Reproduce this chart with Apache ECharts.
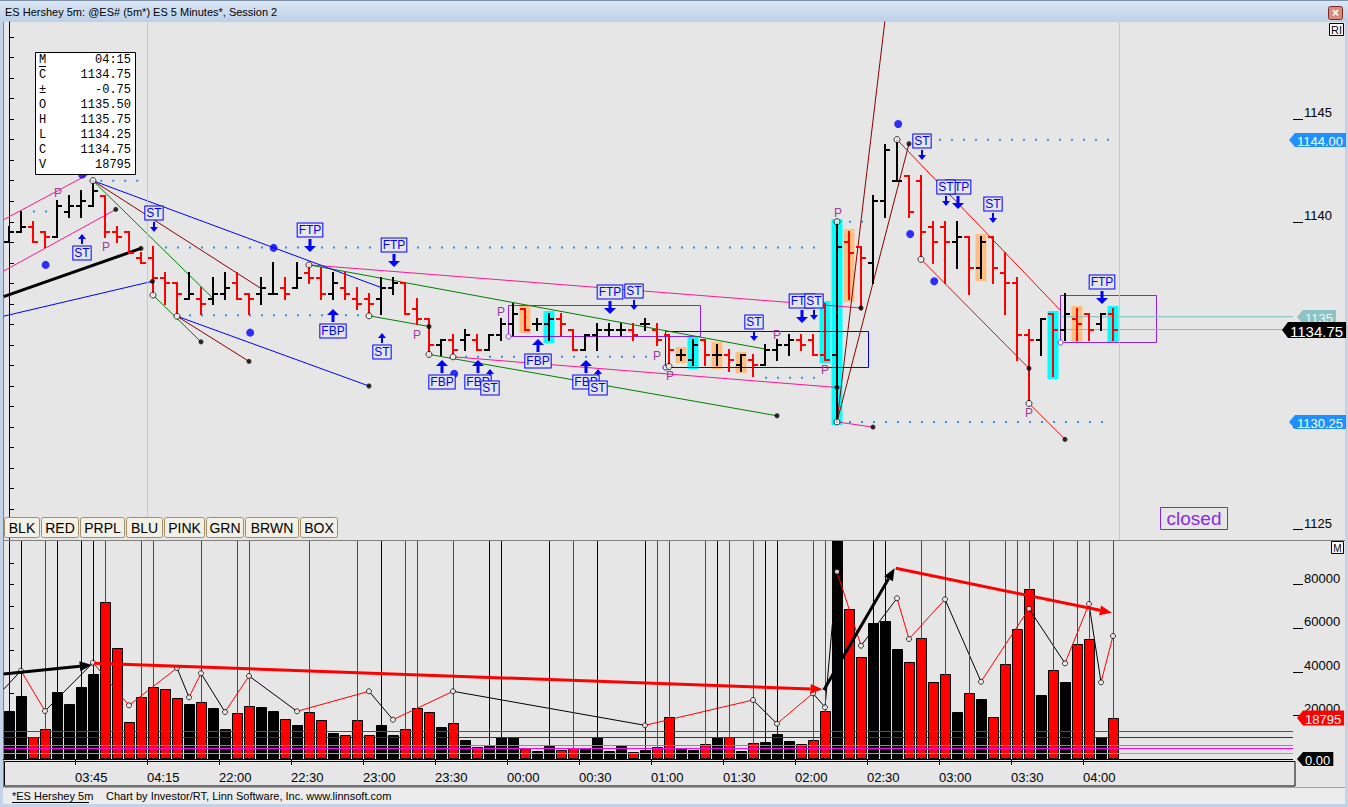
<!DOCTYPE html>
<html>
<head>
<meta charset="utf-8">
<title>ES Hershey 5m</title>
<script src="https://cdn.jsdelivr.net/npm/echarts@6/dist/echarts.min.js"></script>
<style>
html,body{margin:0;padding:0;background:#E6E6E6;overflow:hidden;}
#chart{width:1348px;height:807px;}
</style>
</head>
<body>
<div id="chart"></div>
<script>
// ================= DATA =================
const opens = [1139,1139.5,1139.75,1139.5,1139.25,1140.5,1140.75,1140.75,1141.25,1139.5,
1139.5,1138.25,1138.25,1137.25,1137,1136.25,1136.25,1136.25,1136.5,1137,
1136.5,1136.5,1136.5,1136.75,1136.75,1137.5,1137.25,1136.5,1136.75,1136.25,
1136.25,1136.25,1136.75,1137,1135.75,1135.25,1134,1134.25,1134.25,1134.25,
1133.75,1134.5,1135,1135.75,1135,1135,1135.25,1134.75,1133.75,1134.5,
1134.75,1134.75,1134.75,1135,1134.75,1134.5,1133.5,1133.25,1134.25,1133.5,
1133.5,1133,1133.25,1133,1133.75,1134,1134.25,1134.25,1133.5,1133.5,
1139,1138.75,1138,1141,1142,1142.25,1142,1139.75,1139.75,1139,
1139.25,1137.75,1139.25,1137.5,1137,1134.5,1134.25,1135.5,1134.75,1135.25,
1135.5,1135,1135.5];
const highs = [1139.75,1140.5,1140,1139.5,1141,1141.25,1141.5,1142,1141.25,1139.75,
1139.5,1138.5,1138.75,1137.5,1137,1137.5,1136.75,1137.25,1137.5,1137.5,
1136.5,1137.25,1138,1137.25,1138,1138,1137.75,1137.5,1137.5,1136.75,
1136.5,1137.25,1137.25,1137,1136.25,1135.25,1134.25,1134.5,1134.75,1134.5,
1134.5,1135.25,1136,1135.75,1135.25,1135.5,1135.5,1134.75,1134.5,1135,
1135,1135,1135,1135.25,1135,1134.5,1133.75,1134.25,1134.25,1134,
1133.75,1133.5,1133.5,1134,1134.25,1134.5,1134.5,1134.5,1136,1140,
1139.5,1138.75,1141.25,1143.75,1144,1142.25,1142.25,1140,1140,1140,
1139.25,1139.25,1139.25,1138.5,1137.25,1134.75,1135.25,1135.5,1136.5,1135.75,
1135.5,1135.5,1135.75];
const lows = [1139,1139.5,1139,1138.75,1139.25,1140.25,1140.25,1140.75,1139.25,1139,
1138.5,1138,1136.5,1136,1135.5,1136.25,1135.5,1136,1136.25,1136.25,
1135.5,1136,1136.5,1136.25,1136.75,1137,1136.25,1136.25,1136.25,1135.75,
1135.5,1135.5,1136.5,1135.5,1135,1133.5,1133.5,1133.5,1133.75,1133.75,
1133.75,1134.25,1134.5,1134.75,1134.75,1134.25,1134.5,1133.75,1133.75,1133.75,
1134.5,1134.5,1134.25,1134.75,1134,1133,1133.25,1133,1133,1133,
1132.75,1132.75,1132.5,1133,1133.25,1133.5,1133.75,1133.5,1133.25,1130.25,
1136.25,1135.75,1137,1140.25,1142,1140.25,1138.25,1138,1137,1137.75,
1136.5,1137.25,1137,1135.5,1133.25,1131.25,1133.5,1132.5,1134.25,1134.25,
1134.25,1134.75,1134.25];
const closes = [1139.5,1139.75,1139,1139.25,1140.75,1140.75,1141,1141.5,1139.5,1139.25,
1138.5,1138,1137.25,1137,1136.5,1136.5,1136,1136.5,1136.75,1136.25,
1136.25,1136.75,1136.5,1136.5,1137.25,1137.25,1136.5,1137,1136.5,1136,
1136,1136.75,1137,1135.5,1135.25,1134,1134.25,1133.75,1134.5,1133.75,
1134.5,1135,1135.5,1134.75,1135,1135.25,1135,1133.75,1134.5,1134.75,
1134.75,1134.75,1134.5,1135,1134.25,1133.75,1133.5,1134,1133.5,1133.5,
1133.25,1133.5,1133,1133.75,1134,1134.25,1134,1133.5,1133.25,1138.75,
1138.5,1138.25,1141,1143.5,1142,1140.5,1139.5,1139,1139,1139.25,
1137.75,1139,1137.75,1137,1134.5,1134.25,1135.25,1134.75,1135.5,1135,
1134.75,1135.5,1134.75];
const volumes = [22000,28900,10230,13620,30730,25230,33030,38990,72020,50780,
16830,28440,33030,31960,27840,25230,26000,23390,13620,21100,
24310,23700,22020,18210,15600,21400,17750,11930,10870,17750,
10870,15600,11010,13620,23250,21400,14680,16370,8715,5350,
6100,9950,9950,4590,3670,6100,4130,4890,4590,9950,
3670,6100,3360,4130,5350,19130,4590,4130,6740,9950,
9950,3670,7200,7800,11470,8260,6740,8560,21880,118000,
68660,46650,62240,63300,50460,44350,55360,35180,38850,21560,
30130,27520,19130,43440,59490,77840,29360,40690,35180,52610,
54900,9950,18795];

const timeTickPos = [5.5,11.5,17.5,23.5,29.5,35.5,41.5,47.5,53.5,59.5,65.5,71.5,77.5,83.5,89.5];
const timeTickLabels = ['03:45','04:15','22:00','22:30','23:00','23:30','00:00','00:30','01:00','01:30','02:00','02:30','03:00','03:30','04:00'];
const lastBarTime = '04:15';
const priceMinorTicks = [1125,1126,1127,1128,1129,1130,1131,1132,1133,1134,1135,1136,1137,1138,1139,1140,1141,1142,1143,1144,1145,1146,1147,1148,1149];
const priceMajorTicks = [1125,1130,1135,1140,1145];
const priceTickLabels = [1125,1140,1145];
const volMinorTicks = [0,10000,20000,30000,40000,50000,60000,70000,80000,90000];
const volMajorTicks = [20000,40000,60000,80000];
const volTickLabels = [20000,40000,60000,80000];

// trend lines: [x1, price1, x2, price2]
const pinkLines = [[-0.45,1140.1,6.9,1142.4],[-0.45,1137.6,8.9,1140.6],[25,1137.9,71,1135.8],[37,1133.42,69,1131.93],[69,1130.25,72,1130.0]];
const greenLines = [[7,1142,16.95,1136.3],[12,1136.43,16,1134.15],[25,1137.9,63,1133.8],[30,1135.42,35,1134.9],[35,1133.54,64,1130.55]];
const blueLines = [[-0.45,1135.4,11.95,1137.1],[7,1142,31,1136.8],[14,1135.4,30,1132]];
const maroonLines = [[7,1142,21,1136.75],[14,1135.4,20,1133.2],[69,1130.25,73.2,1150.8],[69,1130.25,75,1143.8]];
const redLines = [[74,1144,87.6,1135.7],[76,1138.17,85,1132.86],[85,1131.15,88,1129.4]];
const blackLines = [[-0.45,1136.35,11,1138.7]];
// dotted levels: [xStart, xEnd, price]
const dottedLevels = [[2,3.2,1140.5],[7.6,11.3,1142],[13,68,1138.75],[15,30,1135.45],[38,53.3,1133.42],[63,68,1132.4],[75.5,92,1144],[70,71.6,1140],[70,92,1130.25]];
const pivotCircles = [[7,1142],[12,1136.43],[14,1135.4],[25,1137.9],[30,1135.42],[35,1133.54],[37,1133.42],[55,1132.95],[69,1140],[69,1130.25],[74,1144],[76,1138.17],[85,1131.15]];
const lineEndDots = [[8.9,1140.6],[11,1138.7],[11.95,1137.1],[16,1134.15],[20,1133.2],[30,1132],[35,1134.9],[64,1130.55],[71,1135.8],[69,1131.93],[72,1130.0],[75,1143.8],[85,1132.86],[88,1129.4]];
const blueDots = [[3.05,1137.9],[6.1,1142.3],[22.05,1138.73],[20.1,1134.6],[37.1,1132.6],[74.1,1144.76],[75.1,1139.4],[77.1,1137.1]];
const pMarks = [[4.08,1141.4],[8.06,1138.75],[34,1134.5],[41,1135.6],[54,1133.45],[55.1,1132.5],[64,1134.5],[68,1132.8],[69.1,1140.44],[85,1130.7]];
// signals: [x, price, text, direction]
const signals = [
 [6.06,1138.47,'ST','up'],[12.06,1140.42,'ST','down'],[25.06,1139.6,'FTP','down'],[32.06,1138.87,'FTP','down'],
 [26.97,1134.67,'FBP','up'],[31.06,1133.65,'ST','up'],[36.06,1132.2,'FBP','up'],[39.06,1132.2,'FBP','up'],
 [40.06,1131.9,'ST','up'],[44.06,1133.2,'FBP','up'],[48.06,1132.2,'FBP','up'],[49.06,1131.9,'ST','up'],
 [50.06,1136.57,'FTP','down'],[52.06,1136.62,'ST','down'],[62.06,1135.11,'ST','down'],[66.1,1136.13,'FTP','down'],
 [67.06,1136.13,'ST','down'],[76.06,1143.93,'ST','down'],[79.1,1141.69,'FTP','down'],[78.1,1141.69,'ST','down'],
 [81.97,1140.86,'ST','down'],[91.06,1137.06,'FTP','down']];
const purpleBoxes = [[41.6,1135.95,57.6,1134.45],[87.6,1136.43,95.6,1134.15]];
const blueBoxes = [[54.7,1134.68,71.6,1132.94]];
const orangeBars = [43,56,59,61,70,81,89];
const cyanBars = [45,57,68,69,87,92];
const sessionBreaks = [11.5,92.5];
const tealLevel = 1135.375;

// volume pane
const vlineBars = [1,3,4,6,7,8,11,12,16,19,20,25,29,31,33,34,37,40,41,45,47,49,53,54,55,58,59,60,62,63,64,67,68,72,73,76,78,80,83,84,85,87,89,90,92];
const zzIdx = [-0.45,1,3,7,10,14,15,16,18,20,24,30,32,37,53,62,64,67,68,69,71,74,75,78,81,85,88,90,91,92];
const zzVol = [31970,40500,22020,44170,24630,41740,28300,39310,21560,38070,21880,31050,18030,31050,15450,27060,16190,30130,23710,85920,51970,73710,55040,73250,35460,68940,43900,71100,35180,56420];
const zzSwing = 'UDUDDUDUDUDUDUDUDUUDUDDUDUDUD';
const volLevels = [12700,9950,6280,4900,2600];
const volTrendUp = [[-0.45,38990,6.9,43100],[67.9,31650,73.8,87470]];
const volTrendDown = [[7.1,43900,67.8,31970],[73.9,87470,91.9,67110]];

// ================= DERIVED =================
const N = closes.length;
const lastClose = closes[N-1];
const prevClose = closes[N-2];
const maxHigh = Math.max(...highs);
const minLow = Math.min(...lows);
const barColor = i => closes[i] >= opens[i] ? '#000000' : '#FF0000';

const FONT = '"Liberation Sans", Arial, sans-serif';
const MONO = '"Liberation Mono", "DejaVu Sans Mono", monospace';
const BG = '#E6E6E6';
const mctx = document.createElement('canvas').getContext('2d');
function textW(t, font){ mctx.font = font; return mctx.measureText(t).width; }

// ================= RENDERERS =================
function renderOHLC(params, api){
  const i = api.value(0), o = api.value(1), h = api.value(2), l = api.value(3), c = api.value(4);
  const x = Math.round(api.coord([i,h])[0]);
  const yh = Math.round(api.coord([i,h])[1]), yl = Math.round(api.coord([i,l])[1]);
  const yo = Math.round(api.coord([i,o])[1]), yc = Math.round(api.coord([i,c])[1]);
  const col = c >= o ? '#000000' : '#FF0000';
  return {type:'group', children:[
    {type:'rect', shape:{x:x-1, y:yh-1, width:2, height:yl-yh+2}, style:{fill:col}},
    {type:'rect', shape:{x:x-5, y:yo-1, width:4, height:2}, style:{fill:col}},
    {type:'rect', shape:{x:x+1, y:yc-1, width:4, height:2}, style:{fill:col}}
  ]};
}
function renderHighlight(params, api){
  const i = api.value(0), h = api.value(1), l = api.value(2), k = api.value(3);
  const p1 = api.coord([i-0.5, h]), p2 = api.coord([i+0.5, l]);
  return {type:'rect', shape:{x:Math.round(p1[0])+0.5, y:Math.round(p1[1])-3, width:Math.round(p2[0]-p1[0])-1, height:Math.round(p2[1]-p1[1])+6},
    style:{fill: k === 1 ? '#00FFFF' : '#FFBF80'}};
}
function makeBoxRenderer(list, color){
  return function(params, api){
    const b = list[params.dataIndex];
    const p1 = api.coord([b[0], b[1]]), p2 = api.coord([b[2], b[3]]);
    const x = Math.round(p1[0])+0.5, y = Math.round(p1[1])+0.5;
    const w = Math.round(p2[0]-p1[0]), h = Math.round(p2[1]-p1[1]);
    return {type:'group', children:[
      {type:'rect', shape:{x:x, y:y, width:w, height:h}, style:{fill:'transparent', stroke:color, lineWidth:1}},
      {type:'circle', shape:{cx:x, cy:y+h, r:2.5}, style:{fill:'#FFFFFF', stroke:color, lineWidth:1}}
    ]};
  };
}
function renderP(params, api){
  const p = api.coord([api.value(0), api.value(1)]);
  return {type:'text', x:Math.round(p[0]), y:Math.round(p[1]), style:{text:'P', fill:'#9A3C9A', font:'12px '+FONT, align:'center', verticalAlign:'middle'}};
}
function renderSignal(params, api){
  const s = signals[params.dataIndex];
  const p = api.coord([s[0], s[1]]);
  const cx = Math.round(p[0]), cy = Math.round(p[1]);
  const big = s[2].length > 2;
  const hw = big ? 6 : 4, hh = big ? 6 : 5, sw = big ? 3 : 2, len = big ? 13 : 10;
  const ch = [{type:'text', x:cx, y:cy, z2:5, style:{text:s[2], fill:'#0000FF', font:'12px '+FONT, align:'center', verticalAlign:'middle',
      backgroundColor:BG, borderColor:'#0000FF', borderWidth:1, padding:[1,1,0,1]}}];
  if (s[3] === 'down') {
    const t = cy + 9;
    ch.push({type:'rect', shape:{x:cx - sw/2, y:t, width:sw, height:len-hh}, style:{fill:'#0000FF'}});
    ch.push({type:'polygon', shape:{points:[[cx-hw, t+len-hh],[cx+hw, t+len-hh],[cx, t+len]]}, style:{fill:'#0000FF'}});
  } else {
    const b = cy - 9;
    ch.push({type:'rect', shape:{x:cx - sw/2, y:b-(len-hh), width:sw, height:len-hh}, style:{fill:'#0000FF'}});
    ch.push({type:'polygon', shape:{points:[[cx-hw, b-len+hh],[cx+hw, b-len+hh],[cx, b-len]]}, style:{fill:'#0000FF'}});
  }
  return {type:'group', children:ch};
}
const TAG_STYLE = {
  blue:  {bg:'#1E90FF', fg:'#FFFFFF', font:'13px '+FONT, dx:-4, h:14},
  teal:  {bg:'#8CC4C4', fg:'#EAF6F6', font:'13px '+FONT, dx:4, h:14},
  close: {bg:'#000000', fg:'#FFFFFF', font:'15px '+FONT, dx:-11, h:16},
  red:   {bg:'#FF0000', fg:'#FFFFFF', font:'13px '+FONT, dx:4, h:15},
  zero:  {bg:'#000000', fg:'#FFFFFF', font:'13px '+FONT, dx:4, h:14}
};
function makeTagRenderer(tags){
  return function(params, api){
    const t = tags[params.dataIndex];
    const st = TAG_STYLE[t.kind];
    const cs = params.coordSys;
    const y = Math.round(api.coord([0, t.v])[1]);
    const x0 = cs.x + cs.width + st.dx;
    const w = textW(t.text, st.font) + 5;
    const hh = st.h/2;
    return {type:'group', children:[
      {type:'polygon', shape:{points:[[x0,y],[x0+6,y-hh],[x0+6+w,y-hh],[x0+6+w,y+hh],[x0+6,y+hh]]}, style:{fill:st.bg}},
      {type:'text', x:x0+8, y:y+1, style:{text:t.text, fill:st.fg, font:st.font, align:'left', verticalAlign:'middle'}}
    ]};
  };
}
function renderVol(params, api){
  const i = api.value(0), v = api.value(1);
  const top = api.coord([i, v]), base = api.coord([i, 0]);
  const x = Math.round(top[0]);
  return {type:'rect', shape:{x:x-5+0.5, y:Math.round(top[1])+0.5, width:10, height:Math.round(base[1]-top[1])-1},
    style:{fill:barColor(i), stroke:'#000000', lineWidth:1}};
}
function renderZZ(params, api){
  const k = params.dataIndex;
  const p1 = api.coord([zzIdx[k], zzVol[k]]), p2 = api.coord([zzIdx[k+1], zzVol[k+1]]);
  return {type:'line', shape:{x1:p1[0], y1:p1[1], x2:p2[0], y2:p2[1]}, style:{stroke: zzSwing[k] === 'U' ? '#000000' : '#FF0000', lineWidth:1}};
}
function makeArrowRenderer(list, color){
  return function(params, api){
    const a = list[params.dataIndex];
    const p1 = api.coord([a[0], a[1]]), p2 = api.coord([a[2], a[3]]);
    const dx = p2[0]-p1[0], dy = p2[1]-p1[1], L = Math.hypot(dx, dy);
    const ux = dx/L, uy = dy/L, nx = -uy, ny = ux;
    const bx = p2[0]-12*ux, by = p2[1]-12*uy;
    return {type:'group', children:[
      {type:'line', shape:{x1:p1[0], y1:p1[1], x2:bx, y2:by}, style:{stroke:color, lineWidth:3}},
      {type:'polygon', shape:{points:[[p2[0],p2[1]],[bx+5*nx, by+5*ny],[bx-5*nx, by-5*ny]]}, style:{fill:color}}
    ]};
  };
}

// ================= SERIES =================
const series = [];
const P = {xAxisIndex:0, yAxisIndex:0};
const V = {xAxisIndex:1, yAxisIndex:2};

series.push(Object.assign({type:'custom', name:'highlights', clip:true, z:1, silent:true,
  renderItem: renderHighlight, encode:{x:0, y:[1,2]},
  data: orangeBars.map(i=>[i, highs[i], lows[i], 0]).concat(cyanBars.map(i=>[i, highs[i], lows[i], 1]))}, P));
series.push(Object.assign({type:'custom', name:'purpleBoxes', clip:true, z:2, silent:true,
  renderItem: makeBoxRenderer(purpleBoxes, '#8A20F0'), encode:{x:[0,2], y:[1,3]}, data: purpleBoxes.map(b=>b.slice())}, P));
series.push(Object.assign({type:'custom', name:'blueBoxes', clip:true, z:2, silent:true,
  renderItem: makeBoxRenderer(blueBoxes, '#0000FF'), encode:{x:[0,2], y:[1,3]}, data: blueBoxes.map(b=>b.slice())}, P));

dottedLevels.forEach(d => series.push(Object.assign({type:'line', z:3, silent:true, symbol:'none', showSymbol:false,
  data:[[d[0], d[2]],[d[1], d[2]]], lineStyle:{color:'#2F8FE8', width:2, type:[2,10]}}, P)));

function addLines(list, color, width){
  list.forEach(l => series.push(Object.assign({type:'line', z:3, silent:true, symbol:'none', showSymbol:false, clip:true,
    data:[[l[0], l[1]],[l[2], l[3]]], lineStyle:{color:color, width:width}}, P)));
}
addLines(pinkLines, '#FF1493', 1);
addLines(greenLines, '#008000', 1);
addLines(blueLines, '#0000FF', 1);
addLines(maroonLines, '#8B0000', 1);
addLines(redLines, '#FF0000', 1);
addLines(blackLines, '#000000', 3);
// teal horizontal levels from box to axis
[tealLevel, lastClose].forEach(v => series.push(Object.assign({type:'line', z:3, silent:true, symbol:'none', showSymbol:false,
  data:[[purpleBoxes[1][0], v],[107, v]], lineStyle:{color:'#7FBFBF', width:1}}, P)));

series.push(Object.assign({type:'custom', name:'ohlc', clip:true, z:5, silent:true,
  renderItem: renderOHLC, encode:{x:0, y:[1,2,3,4]},
  data: closes.map((c,i)=>[i, opens[i], highs[i], lows[i], c])}, P));

series.push(Object.assign({type:'scatter', name:'blueDots', z:6, silent:true, symbol:'circle', symbolSize:8,
  itemStyle:{color:'#0000FF'}, data: blueDots,
  markLine:{silent:true, symbol:['none','none'], label:{show:false}, animation:false,
    lineStyle:{color:'#C8C8C8', width:1, type:'solid'}, data: sessionBreaks.map(x=>({xAxis:x}))}}, P));
series.push(Object.assign({type:'scatter', name:'endDots', z:6, silent:true, symbol:'circle', symbolSize:5,
  itemStyle:{color:'#000000'}, data: lineEndDots}, P));
series.push(Object.assign({type:'scatter', name:'pivots', z:6, silent:true, symbol:'circle', symbolSize:6,
  itemStyle:{color:'#FFFFFF', borderColor:'#000000', borderWidth:1}, data: pivotCircles}, P));
series.push(Object.assign({type:'custom', name:'P', z:6, silent:true, renderItem: renderP, encode:{x:0,y:1}, data: pMarks}, P));
series.push(Object.assign({type:'custom', name:'signals', z:7, silent:true, clip:false, renderItem: renderSignal, encode:{x:0,y:1},
  data: signals.map(s=>[s[0], s[1]])}, P));

const priceTags = [
  {v:maxHigh, text:maxHigh.toFixed(2), kind:'blue'},
  {v:minLow, text:minLow.toFixed(2), kind:'blue'},
  {v:tealLevel, text:String(Math.round(tealLevel)), kind:'teal'},
  {v:lastClose, text:lastClose.toFixed(2), kind:'close'}
];
series.push(Object.assign({type:'custom', name:'priceTags', z:20, silent:true, clip:false,
  renderItem: makeTagRenderer(priceTags), encode:{x:0,y:1}, data: priceTags.map(t=>[0, t.v])}, P));

// volume pane
series.push(Object.assign({type:'scatter', name:'vlineAnchor', z:1, silent:true, symbolSize:0, data:[[0,0]],
  markLine:{silent:true, symbol:['none','none'], label:{show:false}, animation:false,
    data: vlineBars.map(i=>({xAxis:i, lineStyle:{color:barColor(i), width:1, type:'solid', opacity:1}}))}}, V));
series.push(Object.assign({type:'custom', name:'volume', z:2, silent:true, clip:true, renderItem: renderVol, encode:{x:0,y:1},
  data: volumes.map((v,i)=>[i, v])}, V));
const volLevelColors = ['#1A7A1A','#2020E0','#8C8C8C','#FF00FF','#FF9020'];
series.push(Object.assign({type:'custom', name:'zigzag', z:4, silent:true, clip:true, renderItem: renderZZ, encode:{x:0,y:1},
  data: zzIdx.slice(0,-1).map((x,k)=>[x, zzVol[k]])}, V));
series.push(Object.assign({type:'scatter', name:'zzPoints', z:5, silent:true, symbol:'circle', symbolSize:5,
  itemStyle:{color:'#FFFFFF', borderColor:'#000000', borderWidth:1},
  data: zzIdx.slice(1).map((x,k)=>[x, zzVol[k+1]]),
  markLine:{silent:true, symbol:['none','none'], label:{show:false}, animation:false,
    data: volLevels.map((v,k)=>({yAxis:v, lineStyle:{color:volLevelColors[k], width:1, type:'solid'}}))
      .concat([{yAxis:0, lineStyle:{color:'#000000', width:1, type:'solid'}}])}}, V));
series.push(Object.assign({type:'custom', name:'upTrend', z:6, silent:true, clip:true, renderItem: makeArrowRenderer(volTrendUp, '#000000'),
  encode:{x:[0,2], y:[1,3]}, data: volTrendUp.map(a=>a.slice())}, V));
series.push(Object.assign({type:'custom', name:'downTrend', z:6, silent:true, clip:true, renderItem: makeArrowRenderer(volTrendDown, '#FF0000'),
  encode:{x:[0,2], y:[1,3]}, data: volTrendDown.map(a=>a.slice())}, V));
const volTags = [
  {v:volumes[N-1], text:String(volumes[N-1]), kind:'red'},
  {v:0, text:'0.00', kind:'zero'}
];
series.push(Object.assign({type:'custom', name:'volTags', z:20, silent:true, clip:false,
  renderItem: makeTagRenderer(volTags), encode:{x:0,y:1}, data: volTags.map(t=>[0, t.v])}, V));

// ================= CHROME =================
const infoRows = [['M', lastBarTime],['C', lastClose.toFixed(2)],['\u00B1', (lastClose-prevClose).toFixed(2)],
  ['O', opens[N-1].toFixed(2)],['H', highs[N-1].toFixed(2)],['L', lows[N-1].toFixed(2)],['C', lastClose.toFixed(2)],['V', String(volumes[N-1])]];
const buttons = [['BLK',4,36],['RED',41,38],['PRPL',80,45],['BLU',126,37],['PINK',164,41],['GRN',206,38],['BRWN',245,54],['BOX',300,38]];
const graphics = [
  {type:'rect', shape:{x:0,y:0,width:1348,height:22}, style:{fill:{type:'linear',x:0,y:0,x2:0,y2:1,colorStops:[{offset:0,color:'#DDE8F5'},{offset:1,color:'#BCD0EA'}]}}, z:0},
  {type:'rect', shape:{x:0,y:0,width:1348,height:1}, style:{fill:'#7F93AD'}, z:1},
  {type:'text', x:5, y:12, style:{text:'ES Hershey 5m: @ES# (5m*) ES 5 Minutes*, Session 2', font:'11px '+FONT, fill:'#000000', verticalAlign:'middle'}, z:1},
  {type:'rect', shape:{x:1328.5,y:6.5,width:14,height:13,r:2}, style:{fill:'#D98A7E', stroke:'#7A2A20', lineWidth:1}, z:1},
  {type:'text', x:1335.5, y:13, style:{text:'\u00D7', font:'bold 12px '+FONT, fill:'#FFFFFF', align:'center', verticalAlign:'middle'}, z:2},
  {type:'rect', shape:{x:0,y:22,width:3,height:785}, style:{fill:'#C4D4E8'}, z:1},
  {type:'rect', shape:{x:1345,y:22,width:3,height:785}, style:{fill:'#C4D4E8'}, z:1},
  {type:'rect', shape:{x:0,y:804,width:1348,height:3}, style:{fill:'#C4D4E8'}, z:1},
  {type:'line', shape:{x1:3.5,y1:22,x2:3.5,y2:787}, style:{stroke:'#808080', lineWidth:1}, z:1},
  {type:'line', shape:{x1:3,y1:540.5,x2:1345,y2:540.5}, style:{stroke:'#808080', lineWidth:1}, z:1},
  {type:'rect', shape:{x:4.5,y:761.5,width:1290.5,height:24.5}, style:{fill:'transparent', stroke:'#000000', lineWidth:1}, z:1},
  {type:'rect', shape:{x:3,y:787,width:1342,height:17}, style:{fill:'#ECECEC'}, z:1},
  {type:'line', shape:{x1:3,y1:787.5,x2:1345,y2:787.5}, style:{stroke:'#A0A0A0', lineWidth:1}, z:2},
  {type:'text', x:12, y:796, style:{text:'*ES Hershey 5m', font:'11px '+FONT, fill:'#000000', verticalAlign:'middle'}, z:2},
  {type:'line', shape:{x1:12,y1:802.5,x2:89,y2:802.5}, style:{stroke:'#000000', lineWidth:1}, z:2},
  {type:'text', x:106, y:796, style:{text:'Chart by Investor/RT, Linn Software, Inc. www.linnsoft.com', font:'11px '+FONT, fill:'#000000', verticalAlign:'middle'}, z:2},
  {type:'rect', shape:{x:35.5,y:52.5,width:100,height:122}, style:{fill:'#FFFFFF', stroke:'#000000', lineWidth:1}, z:100},
  {type:'rect', shape:{x:1160.5,y:507.5,width:67,height:22}, style:{fill:'transparent', stroke:'#7A28E6', lineWidth:1}, z:10},
  {type:'text', x:1194, y:518.5, style:{text:'closed', font:'19px '+FONT, fill:'#8A2BE2', align:'center', verticalAlign:'middle'}, z:10},
  {type:'rect', shape:{x:1329.5,y:23.5,width:14,height:12}, style:{fill:'#FFFFFF', stroke:'#000000', lineWidth:1}, z:10},
  {type:'text', x:1336.5, y:30, style:{text:'RI', font:'11px '+FONT, fill:'#000000', align:'center', verticalAlign:'middle'}, z:11},
  {type:'rect', shape:{x:1331.5,y:541.5,width:12,height:12}, style:{fill:'#FFFFFF', stroke:'#000000', lineWidth:1}, z:10},
  {type:'text', x:1337.5, y:548, style:{text:'M', font:'10px '+FONT, fill:'#000000', align:'center', verticalAlign:'middle'}, z:11}
];
infoRows.forEach((r,k) => {
  const y = 60 + 15*k;
  graphics.push({type:'text', x:39, y:y, style:{text:r[0], font:'12px '+MONO, fill:'#000000', verticalAlign:'middle'}, z:101});
  graphics.push({type:'text', x:131, y:y, style:{text:r[1], font:'12px '+MONO, fill:'#000000', align:'right', verticalAlign:'middle'}, z:101});
});
graphics.push({type:'line', shape:{x1:39,y1:66.5,x2:46,y2:66.5}, style:{stroke:'#000000', lineWidth:1}, z:101});
buttons.forEach(b => {
  graphics.push({type:'rect', shape:{x:b[1]+0.5, y:517.5, width:b[2]-1, height:20, r:2}, style:{fill:'#F3F0E6', stroke:'#A0906C', lineWidth:1}, z:10});
  graphics.push({type:'text', x:b[1]+b[2]/2, y:528, style:{text:b[0], font:'14px '+FONT, fill:'#000000', align:'center', verticalAlign:'middle'}, z:11});
});

// ================= OPTION =================
const chart = echarts.init(document.getElementById('chart'), null, {renderer:'svg', width:1348, height:807});
const option = {
  animation:false,
  backgroundColor:BG,
  textStyle:{fontFamily:FONT},
  grid:[{left:3, top:22, width:1290, height:518}, {left:3, top:541, width:1290, height:218}],
  xAxis:[
    {gridIndex:0, type:'value', min:-0.5, max:107, show:false},
    {gridIndex:1, type:'value', min:-0.5, max:107, position:'bottom', offset:3,
      axisLine:{show:false}, splitLine:{show:false},
      axisTick:{show:true, customValues:timeTickPos, length:6, lineStyle:{color:'#000000'}},
      axisLabel:{show:true, customValues:timeTickPos, align:'left', margin:9, color:'#000000', fontSize:13, fontFamily:FONT,
        formatter:(v)=>{ const k = timeTickPos.indexOf(v); return k >= 0 ? timeTickLabels[k] : ''; }}}
  ],
  yAxis:[
    {gridIndex:0, type:'value', min:1124.5, max:1149.73, position:'right', splitLine:{show:false},
      axisLine:{show:true, lineStyle:{color:'#000000'}},
      axisTick:{show:true, customValues:priceMinorTicks, length:5, lineStyle:{color:'#000000'}},
      axisLabel:{show:false}},
    {gridIndex:0, type:'value', min:1124.5, max:1149.73, position:'right', splitLine:{show:false},
      axisLine:{show:false},
      axisTick:{show:true, customValues:priceMajorTicks, length:10, lineStyle:{color:'#000000'}},
      axisLabel:{show:true, customValues:priceTickLabels, margin:11, verticalAlign:'bottom', color:'#000000', fontSize:13, fontFamily:FONT,
        formatter:(v)=>String(v)}},
    {gridIndex:1, type:'value', min:0, max:100000, position:'right', splitLine:{show:false},
      axisLine:{show:true, lineStyle:{color:'#000000'}},
      axisTick:{show:true, customValues:volMinorTicks, length:5, lineStyle:{color:'#000000'}},
      axisLabel:{show:false}},
    {gridIndex:1, type:'value', min:0, max:100000, position:'right', splitLine:{show:false},
      axisLine:{show:false},
      axisTick:{show:true, customValues:volMajorTicks, length:10, lineStyle:{color:'#000000'}},
      axisLabel:{show:true, customValues:volTickLabels, margin:11, verticalAlign:'bottom', color:'#000000', fontSize:13, fontFamily:FONT,
        formatter:(v)=>String(v)}}
  ],
  graphic:{elements:graphics},
  series:series
};
chart.setOption(option);
</script>
</body>
</html>
